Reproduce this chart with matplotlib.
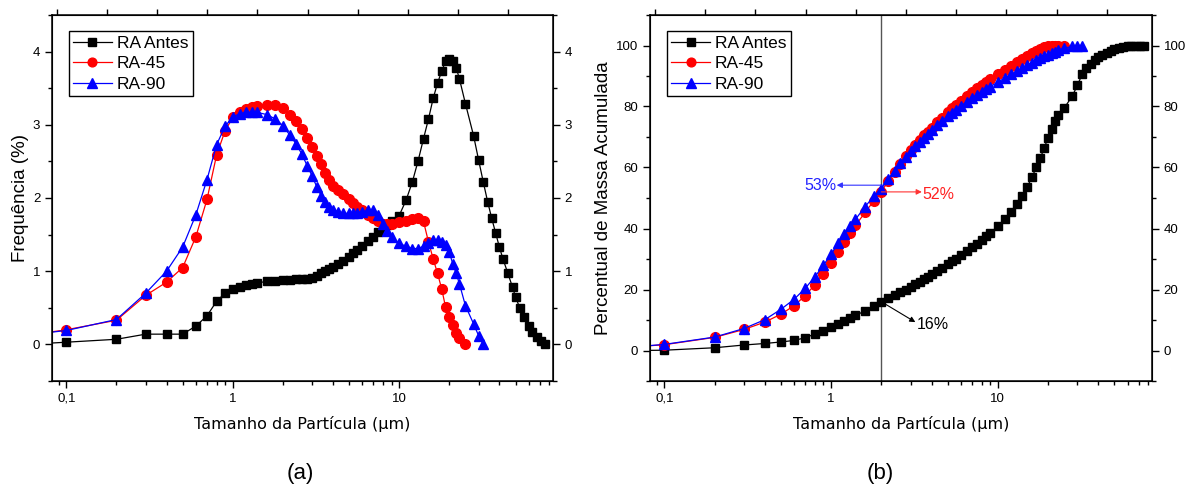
import matplotlib
matplotlib.use('Agg')
import matplotlib.pyplot as plt
from matplotlib.ticker import (FuncFormatter, LogLocator, MultipleLocator,
                               NullFormatter)

plt.rcParams['font.family'] = ['Liberation Sans', 'DejaVu Sans']

# tamanho de particula (um) das classes do granulometro
tamanho = [0.07, 0.1, 0.2, 0.3, 0.4, 0.5, 0.6, 0.7, 0.8, 0.9,
           1.0, 1.1, 1.2, 1.3, 1.4, 1.6, 1.8,
           2.0, 2.2, 2.4, 2.6, 2.8, 3.0, 3.2, 3.4, 3.6, 3.8,
           4.0, 4.3, 4.6, 5.0, 5.3, 5.6, 6.0, 6.5, 7.0, 7.5, 8.0, 8.5, 9.0,
           10, 11, 12, 13, 14, 15, 16, 17, 18, 19, 20, 21, 22, 23, 25,
           28, 30, 32, 34, 36, 38, 40, 42, 45, 48, 50, 53, 56, 60, 63, 67, 71, 75]

# frequencia (%)
freq_antes = [0.01, 0.03, 0.07, 0.14, 0.14, 0.14, 0.25, 0.39, 0.59, 0.70,
              0.76, 0.79, 0.81, 0.83, 0.84, 0.86, 0.87,
              0.88, 0.88, 0.89, 0.89, 0.90, 0.91, 0.94, 0.97, 1.00, 1.03,
              1.06, 1.10, 1.14, 1.20, 1.25, 1.29, 1.35, 1.41, 1.47, 1.53, 1.58, 1.63, 1.68,
              1.76, 1.97, 2.22, 2.51, 2.81, 3.08, 3.36, 3.57, 3.73, 3.87, 3.90, 3.87, 3.78, 3.63, 3.29,
              2.85, 2.52, 2.22, 1.95, 1.72, 1.52, 1.33, 1.17, 0.97, 0.78, 0.65, 0.50, 0.38, 0.25,
              0.17, 0.10, 0.05, 0.0]
freq_45 = [0.15, 0.20, 0.33, 0.67, 0.85, 1.05, 1.47, 1.98, 2.59, 2.92,
           3.10, 3.17, 3.21, 3.24, 3.26, 3.27, 3.27,
           3.23, 3.14, 3.05, 2.94, 2.82, 2.70, 2.58, 2.46, 2.34, 2.24,
           2.17, 2.11, 2.05, 1.98, 1.93, 1.88, 1.83, 1.77, 1.72, 1.68, 1.65, 1.64, 1.65,
           1.67, 1.69, 1.71, 1.72, 1.68, 1.40, 1.17, 0.97, 0.76, 0.51, 0.37, 0.26, 0.15, 0.09, 0.0]
freq_90 = [0.15, 0.19, 0.34, 0.70, 1.00, 1.33, 1.77, 2.25, 2.73, 2.98,
           3.11, 3.15, 3.17, 3.17, 3.17, 3.14, 3.08,
           2.99, 2.86, 2.74, 2.60, 2.44, 2.30, 2.15, 2.03, 1.94, 1.88,
           1.84, 1.81, 1.79, 1.79, 1.79, 1.80, 1.81, 1.83, 1.83, 1.77, 1.64, 1.55, 1.47,
           1.38, 1.34, 1.31, 1.31, 1.34, 1.38, 1.42, 1.42, 1.40, 1.36, 1.26, 1.10, 0.97, 0.83, 0.53,
           0.28, 0.12, 0.0]

# percentual de massa acumulada
acum_antes = [0.0, 0.1, 0.9, 1.8, 2.3, 2.8, 3.3, 4.2, 5.4, 6.5,
              7.6, 8.7, 9.7, 10.6, 11.5, 13.0, 14.6,
              16.0, 17.1, 18.1, 19.1, 20.0, 20.9, 21.8, 22.6, 23.4, 24.2,
              25.0, 26.1, 27.1, 28.4, 29.3, 30.1, 31.2, 32.5, 33.8, 35.0, 36.3, 37.5, 38.6,
              40.7, 43.0, 45.5, 48.0, 50.7, 53.6, 56.8, 60.0, 63.2, 66.5, 69.8, 72.6, 75.2, 77.3, 79.5,
              83.5, 87.0, 90.5, 92.5, 94.0, 95.2, 96.1, 96.9, 97.7, 98.3, 98.7, 99.1, 99.4, 99.7,
              99.8, 99.9, 100.0, 100.0]
acum_45 = [1.3, 1.9, 4.3, 6.9, 9.3, 11.9, 14.7, 18.0, 21.6, 25.2,
           28.7, 32.2, 35.5, 38.4, 41.0, 45.3, 49.0,
           52.0, 55.6, 58.6, 61.3, 63.7, 65.8, 67.5, 69.0, 70.5, 71.8,
           73.0, 74.8, 76.3, 78.3, 79.5, 80.6, 81.9, 83.4, 84.8, 86.0, 87.1, 88.1, 89.0,
           90.6, 92.0, 93.3, 94.5, 95.6, 96.6, 97.5, 98.3, 98.9, 99.4, 99.7, 99.9, 100.0, 100.0, 100.0]
acum_90 = [1.3, 2.0, 4.4, 7.2, 10.1, 13.5, 16.8, 20.4, 24.2, 28.0,
           31.6, 35.1, 38.2, 40.8, 43.0, 47.2, 50.5,
           53.0, 56.2, 59.0, 61.4, 63.5, 65.3, 66.9, 68.4, 69.8, 71.0,
           72.2, 73.8, 75.2, 76.9, 78.0, 79.0, 80.2, 81.5, 82.7, 83.8, 84.8, 85.7, 86.5,
           88.0, 89.3, 90.5, 91.6, 92.6, 93.5, 94.3, 95.1, 95.8, 96.4, 97.0, 97.5, 98.0, 98.4, 99.1,
           99.7, 100.0, 100.0]

amostras = ['RA Antes', 'RA-45', 'RA-90']
cores = ['black', 'red', 'blue']
marcadores = [('s', 6), ('o', 7), ('^', 7.5)]
x_corte = 2.0


def virgula(v, pos):
    return ('%g' % v).replace('.', ',')


def formata_eixos(ax, ylim, passo, passo_menor):
    ax.set_xscale('log')
    ax.set_xlim(0.082, 84)
    ax.set_ylim(*ylim)
    ax.xaxis.set_major_locator(LogLocator(base=10))
    ax.xaxis.set_minor_locator(LogLocator(base=10, subs=range(2, 10)))
    ax.xaxis.set_major_formatter(FuncFormatter(virgula))
    ax.xaxis.set_minor_formatter(NullFormatter())
    ax.yaxis.set_major_locator(MultipleLocator(passo))
    ax.yaxis.set_minor_locator(MultipleLocator(passo_menor))
    ax.tick_params(which='both', direction='out', right=True, labelright=True,
                   labelsize=9.5, width=1)
    ax.tick_params(which='major', length=5)
    ax.tick_params(which='minor', length=3)
    for s in ax.spines.values():
        s.set_linewidth(1.1)
    ax.set_xlabel('Tamanho da Partícula (μm)', family='DejaVu Sans',
                  fontsize=11.5, labelpad=8)
    # eixo superior linear, so com marcas
    topo = ax.twiny()
    topo.set_xlim(-0.1, 9.9)
    topo.set_xticks(range(10))
    topo.set_xticklabels([])
    topo.tick_params(direction='out', length=4, width=1)


def desenha(ax, series):
    for nome, cor, (m, ms), y in zip(amostras, cores, marcadores, series):
        ax.plot(tamanho[:len(y)], y, color=cor, lw=0.9, marker=m, ms=ms,
                mec=cor, mfc=cor, label=nome)
    ax.legend(loc='upper left', bbox_to_anchor=(0.034, 0.955), fontsize=12.5,
              fancybox=False, edgecolor='black', framealpha=1,
              handlelength=2.2, handletextpad=0.3, labelspacing=0.3,
              borderpad=0.25, borderaxespad=0, markerscale=0.9)


fig = plt.figure(figsize=(11.9, 4.9), dpi=100)
ax1 = fig.add_axes([52 / 1190, 109 / 490, 501 / 1190, 366 / 490])
ax2 = fig.add_axes([650 / 1190, 109 / 490, 502 / 1190, 366 / 490])

# (a) distribuicao de frequencia
desenha(ax1, [freq_antes, freq_45, freq_90])
ax1.set_ylabel('Frequência (%)', fontsize=13.5, labelpad=3)
formata_eixos(ax1, (-0.5, 4.5), 1, 0.5)

# (b) massa acumulada
ax2.axvline(x_corte, color='#555555', lw=1)
desenha(ax2, [acum_antes, acum_45, acum_90])
ax2.set_ylabel('Percentual de Massa Acumulada', fontsize=13.5, labelpad=3)
formata_eixos(ax2, (-10, 110), 20, 10)

i = tamanho.index(x_corte)
seta = dict(arrowstyle='-|>', lw=0.8, mutation_scale=8, shrinkA=0, shrinkB=0)
y90 = acum_90[i] + 1.2
ax2.annotate('', xy=(1.08, y90), xytext=(x_corte, y90),
             arrowprops=dict(seta, color='#3333ff'))
ax2.text(1.07, y90, '%d%%' % round(acum_90[i]), color='#2222ff',
         ha='right', va='center', fontsize=11.5)
y45 = acum_45[i]
ax2.annotate('', xy=(3.5, y45), xytext=(x_corte, y45),
             arrowprops=dict(seta, color='#ff3333'))
ax2.text(3.55, y45 - 0.8, '%d%%' % round(acum_45[i]), color='#ff2222',
         ha='left', va='center', fontsize=11.5)
ya = acum_antes[i]
ax2.annotate('', xy=(3.2, 9.3), xytext=(x_corte, ya),
             arrowprops=dict(seta, color='black'))
ax2.text(3.25, 8.6, '%d%%' % round(ya), color='black',
         ha='left', va='center', fontsize=11.5)

fig.text(300 / 1190, 1 - 473 / 490, '(a)', ha='center', va='center', fontsize=16)
fig.text(880 / 1190, 1 - 473 / 490, '(b)', ha='center', va='center', fontsize=16)

fig.savefig('out.png', dpi=100)
